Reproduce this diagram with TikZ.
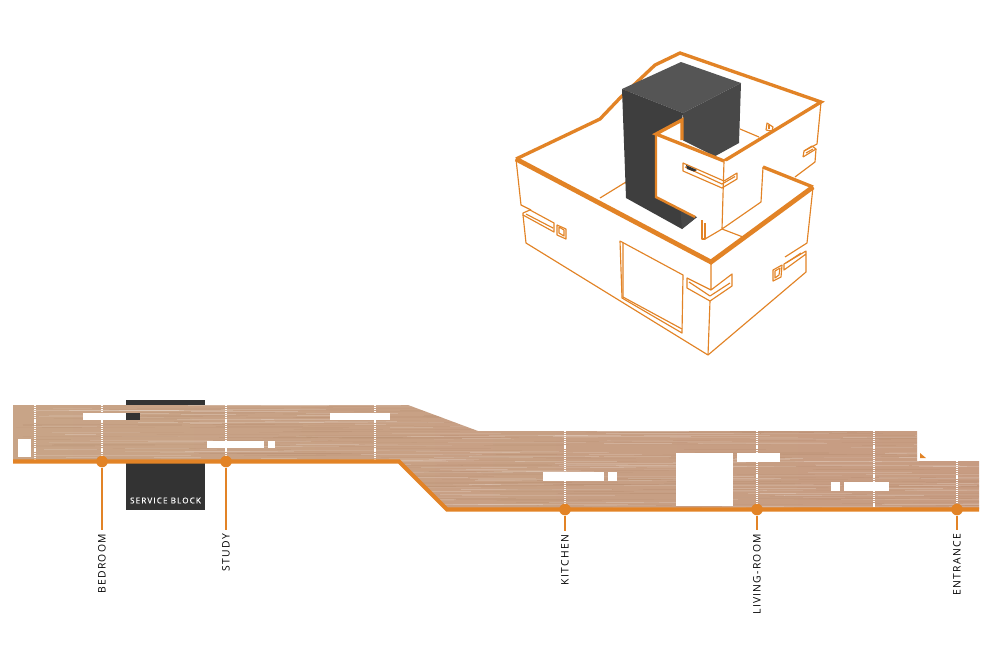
\documentclass[tikz,border=0pt]{standalone}
\usepackage{fontspec}
\setmainfont{Open Sans}[LetterSpace=12]
\definecolor{cam}{RGB}{226,131,38}
\definecolor{khoi}{RGB}{51,51,51}
\definecolor{khoitrai}{RGB}{62,62,62}
\definecolor{khoisang}{RGB}{72,72,72}
\definecolor{khoinoc}{RGB}{85,85,85}
\definecolor{gotrai}{RGB}{200,164,135}
\definecolor{gophai}{RGB}{199,156,130}
\definecolor{gotoi}{RGB}{178,135,105}
\tikzset{
	mong/.style={draw=cam,line width=0.65pt,line join=round},
	day/.style={draw=cam,line width=1.9pt,line join=miter},
	rattday/.style={draw=cam,line width=2.7pt,line join=miter},
	vach/.style={white,line width=0.6pt,dash pattern=on 0.6pt off 0.5pt},
	nhan/.style={rotate=90,anchor=east,inner sep=0pt,outer sep=0pt,font=\fontsize{5.9}{7}\selectfont,text=black},
	cham/.style={circle,fill=cam,minimum size=6.6pt,inner sep=0pt}
}
\begin{document}
\begin{tikzpicture}[x=0.02cm,y=-0.02cm]
	\useasboundingbox (0,0) rectangle (1000,650);
	\fill[white] (0,0) rectangle (1000,650);

	\fill[khoi] (126,400) rectangle (205,405);
	\fill[khoi] (126,463) rectangle (205,510);
	\begin{scope}
		\clip (13,405) -- (408,405) -- (478,431) -- (917,431) -- (917,461) -- (979,461) -- (979,509) -- (447,509) -- (399,461) -- (13,461) -- cycle;
		\shade[left color=gotrai,right color=gophai] (13,400) rectangle (979,512);
		\pgfmathsetseed{41}
		\foreach \i in {1,...,300} {
			\pgfmathsetmacro{\xa}{rnd*960+13}
			\pgfmathsetmacro{\ya}{rnd*108+403}
			\pgfmathsetmacro{\dx}{rnd*130+30}
			\pgfmathsetmacro{\op}{rnd*0.15+0.05}
			\draw[white,opacity=\op,line width=0.5pt] (\xa,\ya) -- ++(\dx,0);
		}
		\foreach \i in {1,...,320} {
			\pgfmathsetmacro{\xa}{rnd*960+13}
			\pgfmathsetmacro{\ya}{rnd*108+403}
			\pgfmathsetmacro{\dx}{rnd*130+30}
			\pgfmathsetmacro{\op}{rnd*0.16+0.05}
			\draw[gotoi,opacity=\op,line width=0.6pt] (\xa,\ya) -- ++(\dx,0);
		}
	\end{scope}

	\fill[white] (83,413) rectangle (126,420);
	\fill[khoi] (126,413) rectangle (140,420);
	\fill[white] (330,413) rectangle (390,420);
	\fill[white] (207,441) rectangle (264,448);
	\fill[white] (268,441) rectangle (275,448);
	\fill[white] (18,439) rectangle (31,457);
	\fill[white] (543,472) rectangle (604,481);
	\fill[white] (608,472) rectangle (617,481);
	\fill[white] (676,453) rectangle (733,506);
	\fill[white] (737,453) rectangle (780,462);
	\fill[white] (831,482) rectangle (840,491);
	\fill[white] (844,482) rectangle (889,491);
	\fill[cam] (920,453) -- (926,458) -- (920,458) -- cycle;

	\draw[vach] (35,405) -- (35,460);
	\draw[vach] (102,405) -- (102,460);
	\draw[vach] (226,405) -- (226,460);
	\draw[vach] (375,405) -- (375,460);
	\draw[vach] (565,431) -- (565,508);
	\draw[vach] (757,431) -- (757,508);
	\draw[vach] (874,431) -- (874,508);
	\draw[vach] (957,461) -- (957,508);

	\draw[cam,line width=2.3pt] (13,461.5) -- (399,461.5) -- (447,509.5) -- (979,509.5);

	\node[cham] (dotBedroom) at (102,461.5) {};
	\node[cham] (dotStudy) at (226,461.5) {};
	\node[cham] (dotKitchen) at (565,509.5) {};
	\node[cham] (dotLiving) at (757,509.5) {};
	\node[cham] (dotEntrance) at (957,509.5) {};
	\node[nhan] (lblBedroom) at (102,534) {BEDROOM};
	\node[nhan] (lblStudy) at (226,534) {STUDY};
	\node[nhan] (lblKitchen) at (565,535) {KITCHEN};
	\node[nhan] (lblLiving) at (757,534) {LIVING-ROOM};
	\node[nhan] (lblEntrance) at (957,534) {ENTRANCE};
	\draw[cam,line width=0.9pt,shorten >=2.5pt] (dotBedroom) -- (lblBedroom.east);
	\draw[cam,line width=0.9pt,shorten >=2.5pt] (dotStudy) -- (lblStudy.east);
	\draw[cam,line width=0.9pt,shorten >=2.5pt] (dotKitchen) -- (lblKitchen.east);
	\draw[cam,line width=0.9pt,shorten >=2.5pt] (dotLiving) -- (lblLiving.east);
	\draw[cam,line width=0.9pt,shorten >=2.5pt] (dotEntrance) -- (lblEntrance.east);
	\node[text=white,inner sep=0pt,font=\fontsize{4.6}{6}\selectfont\addfontfeature{LetterSpace=14,FakeBold=0.5}] (lblService) at (165.5,500.5) {SERVICE BLOCK};

	\draw[day] (516,159) -- (600,119) -- (620,98) -- (655,65) -- (680,53) -- (821,102) -- (724,161);

	\draw[mong] (821,102) -- (817,144) -- (804,151);
	\draw[mong] (803,157) -- (804,151) -- (812,146) -- (816,149) -- (803,157);
	\draw[mong] (806,153) -- (813,149);
	\draw[mong] (816,149) -- (815,162) -- (795,177);
	\draw[mong] (766,130) -- (767,123) -- (773,127) -- (772,131) -- (766,130);
	\draw[mong] (769,129) -- (769,125);
	\draw[mong] (740,129) -- (759,137);
	\draw[mong] (600,198) -- (626,182);
	\draw[mong] (702,220) -- (702,239) -- (705,239) -- (705,223);
	\draw[mong] (705,239) -- (722,229) -- (743,237);

	\fill[khoinoc] (622,89) -- (681,62) -- (741,83) -- (683,113) -- cycle;
	\fill[khoisang] (683,113) -- (741,83) -- (739,143) -- (690,170) -- (683,140) -- cycle;
	\fill[khoitrai] (622,89) -- (683,113) -- (682,120) -- (680,180) -- (697,217) -- (682,229) -- (626,198) -- cycle;
	\fill[khoisang] (682,229) -- (697,217) -- (680,205) -- cycle;

	\fill[white] (656,134) -- (682,120) -- (682,140) -- (724,161) -- (722,229) -- (695,216) -- (656,197) -- cycle;
	\fill[white] (724,161) -- (763,167) -- (761,202) -- (722,229) -- cycle;

	\draw[mong] (724,161) -- (722,229) -- (761,202) -- (763,167);
	\draw[mong] (683,163) -- (724,181) -- (737,173) -- (737,179) -- (722,188) -- (683,171) -- cycle;
	\draw[mong] (685,167) -- (722,184) -- (735,176.5);
	\fill[khoi] (686,165) -- (697,170) -- (694,171.5) -- (687,169) -- cycle;

	\draw[mong] (516,159) -- (521,205) -- (531,210);
	\draw[mong] (523,213) -- (530,210) -- (554,223) -- (554,232) -- (523,215) -- cycle;
	\draw[mong] (526,214) -- (553,228);
	\draw[mong] (523,215) -- (526,243) -- (708,355) -- (806,272) -- (806,251) -- (784,264) -- (784,270) -- (806,254);
	\draw[mong] (786,263) -- (801,253);
	\draw[mong] (813,187) -- (807,243) -- (785,257);
	\draw[mong] (557,225) -- (566,229) -- (566,239) -- (557,235) -- cycle;
	\draw[mong] (559,227) -- (564,230) -- (564,236) -- (559,233) -- cycle;
	\draw[mong] (773,270) -- (782,265) -- (781,277) -- (773,281) -- cycle;
	\draw[mong] (775,271) -- (780,268) -- (779,275) -- (775,278) -- cycle;
	\draw[mong] (620,241) -- (683,275) -- (682,333) -- (622,298) -- cycle;
	\draw[mong] (623,243) -- (623,297) -- (682,329);
	\draw[mong] (711,262) -- (711,290) -- (687,278) -- (687,288) -- (710,301) -- (732,286) -- (732,274) -- (711,290);
	\draw[mong] (689,282) -- (710,296) -- (730,283);
	\draw[mong] (710,301) -- (708,355);

	\draw[day] (724,161) -- (656,134) -- (682,120) -- (682,140);
	\draw[day,line width=1.4pt] (656,134) -- (656,197) -- (695,217);
	\draw[day] (763,167) -- (813,187);
	\draw[rattday] (813,187) -- (711,262) -- (516,159);
\end{tikzpicture}
\end{document}
